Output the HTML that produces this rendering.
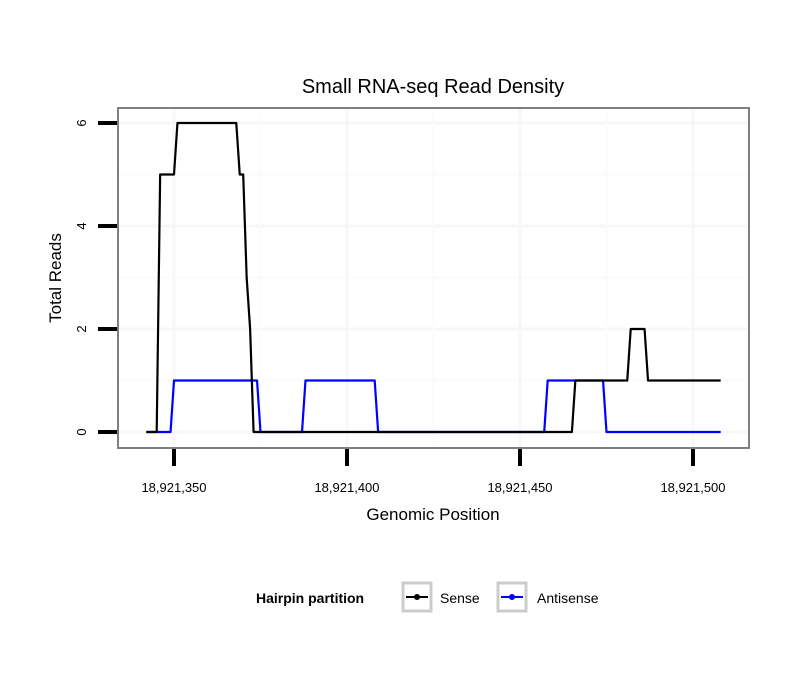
<!DOCTYPE html>
<html><head><meta charset="utf-8"><style>
body{margin:0;background:#fff;}
svg{display:block;font-family:"Liberation Sans",sans-serif;}
</style></head><body>
<svg id="chart" width="810" height="690">
<text x="433" y="93" text-anchor="middle" font-size="20">Small RNA-seq Read Density</text>
<g id="grid"></g>
<g id="series"></g>
<rect x="118" y="108" width="631" height="340" fill="none" stroke="#7f7f7f" stroke-width="2"/>
<g id="axes"></g>
<text x="433" y="520" text-anchor="middle" font-size="17">Genomic Position</text>
<text transform="translate(61,278) rotate(-90)" text-anchor="middle" font-size="17">Total Reads</text>
<g>
<text x="256" y="603" font-size="14" font-weight="bold">Hairpin partition</text>
<g>
<rect x="403" y="583" width="28" height="28" fill="#fff" stroke="#ccc" stroke-width="3"/>
<line x1="406" y1="597" x2="428" y2="597" stroke="#000" stroke-width="2"/><circle cx="417" cy="597" r="3" fill="#000"/>
<text x="440" y="603" font-size="14">Sense</text></g>
<g>
<rect x="498" y="583" width="28" height="28" fill="#fff" stroke="#ccc" stroke-width="3"/>
<line x1="501" y1="597" x2="523" y2="597" stroke="#00f" stroke-width="2"/><circle cx="512" cy="597" r="3" fill="#00f"/>
<text x="537" y="603" font-size="14">Antisense</text></g>
</g>
</svg>
<script>
const senseX=[18921342,18921345,18921346,18921350,18921351,18921368,18921369,18921370,18921371,18921372,18921373,18921465,18921466,18921481,18921482,18921486,18921487,18921508];
const senseY=[0,0,5,5,6,6,5,5,3,2,0,0,1,1,2,2,1,1];
const antiX=[18921342,18921349,18921350,18921374,18921375,18921387,18921388,18921408,18921409,18921457,18921458,18921474,18921475,18921508];
const antiY=[0,0,1,1,0,0,1,1,0,0,1,1,0,0];
const xTicks=[18921350,18921400,18921450,18921500];
const xTickLabels=["18,921,350","18,921,400","18,921,450","18,921,500"];
const yTicks=[0,2,4,6];
const X=v=>174+(v-18921350)*3.46;
const Y=v=>432-v*51.5;
const NS="http://www.w3.org/2000/svg";
function mk(tag,attrs,parent){const e=document.createElementNS(NS,tag);for(const k in attrs)e.setAttribute(k,attrs[k]);parent.appendChild(e);return e;}
const grid=document.getElementById('grid'),axes=document.getElementById('axes'),ser=document.getElementById('series');
for(let v=0;v<=6;v++){const l=mk('line',{x1:118,x2:749,y1:Y(v),y2:Y(v),stroke:v%2?'#fbfbfb':'#f7f7f7','stroke-width':v%2?2:3},grid);

}
for(let p=18921325;p<=18921525;p+=25){const x=X(p);if(x<118||x>749)continue;const l=mk('line',{x1:x,x2:x,y1:108,y2:448,stroke:(p%50)?'#fbfbfb':'#f7f7f7','stroke-width':(p%50)?2:3},grid);

}
yTicks.forEach(v=>{const t=mk('line',{x1:98,x2:117,y1:Y(v),y2:Y(v),stroke:'#000','stroke-width':4},axes);


const tx=mk('text',{transform:`translate(86,${Y(v)}) rotate(-90)`,'text-anchor':'middle','font-size':13},axes);tx.textContent=v;

});
xTicks.forEach((v,i)=>{const t=mk('line',{x1:X(v),x2:X(v),y1:449,y2:466,stroke:'#000','stroke-width':4},axes);


const tx=mk('text',{x:X(v),y:492,'text-anchor':'middle','font-size':13},axes);tx.textContent=xTickLabels[i];

});
function line(xs,ys,color,name){const pts=xs.map((x,i)=>X(x)+','+Y(ys[i])).join(' ');
const p=mk('polyline',{points:pts,fill:'none',stroke:color,'stroke-width':2.2,'stroke-linejoin':'round'},ser);

}
line(antiX,antiY,'#0000ff','antisense-line');
line(senseX,senseY,'#000000','sense-line');
</script>
</body></html>
